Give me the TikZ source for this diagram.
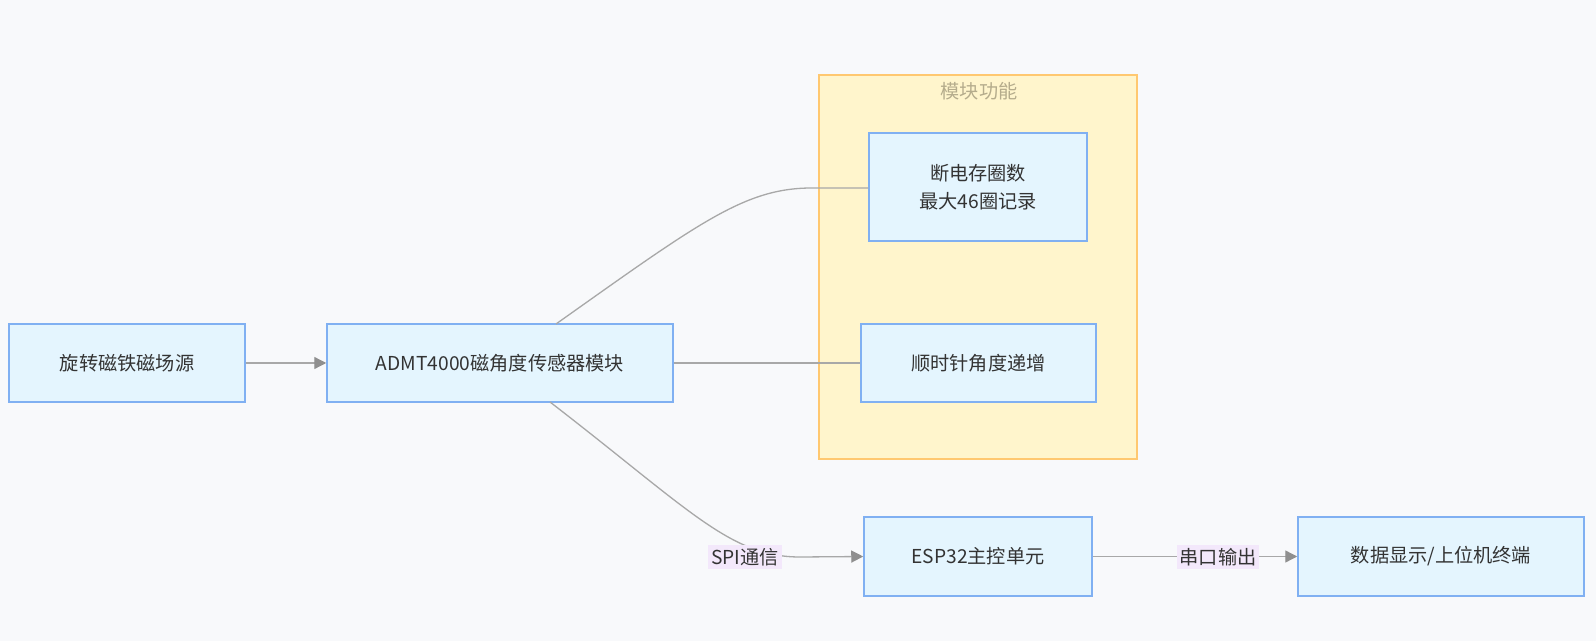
\documentclass[tikz,border=0pt]{standalone}
\usepackage{fontspec}
\setmainfont{Noto Sans CJK SC}
\usetikzlibrary{arrows.meta}
\definecolor{bgc}{HTML}{F8F9FB}
\definecolor{boxfill}{HTML}{E4F5FE}
\definecolor{boxdraw}{HTML}{80B0F2}
\definecolor{clfill}{HTML}{FFF5CC}
\definecolor{cldraw}{HTML}{FFC870}
\definecolor{cltext}{HTML}{B5AC8C}
\definecolor{linec}{HTML}{A8A8A8}
\definecolor{lblfill}{HTML}{F3E8FB}
\definecolor{txt}{HTML}{333333}
\begin{document}
\begin{tikzpicture}[x=0.5pt,y=-0.5pt,
  box/.style={draw=boxdraw,fill=boxfill,line width=0.75pt,inner sep=0pt,
    text=txt,font=\fontsize{9.6pt}{14pt}\selectfont,align=center},
  conn/.style={draw=linec,line width=0.65pt},
  arr/.style={conn,-{Triangle[length=6pt,width=6pt,fill=linec!85!black,color=linec!85!black]}},
  lbl/.style={fill=lblfill,inner sep=1.5pt,text=txt,font=\fontsize{9.6pt}{12pt}\selectfont}]
\useasboundingbox[fill=bgc] (0,0) rectangle (1596,641);
% cluster
\node[draw=cldraw,fill=clfill,line width=0.75pt,minimum width=318*0.5pt,minimum height=384*0.5pt,inner sep=0pt] (cl) at (978,267) {};
\node[text=cltext,font=\fontsize{9.6pt}{12pt}\selectfont] (cltitle) at (979,91) {模块功能};
% nodes
\node[box,minimum width=236*0.5pt,minimum height=78*0.5pt] (A) at (127,363) {旋转磁铁磁场源};
\node[box,minimum width=346*0.5pt,minimum height=78*0.5pt] (B) at (500,363) {ADMT4000磁角度传感器模块};
\node[box,minimum width=218*0.5pt,minimum height=108*0.5pt] (C) at (978,187) {断电存圈数\\最大46圈记录};
\node[box,minimum width=235*0.5pt,minimum height=78*0.5pt] (D) at (978.5,363) {顺时针角度递增};
\node[box,minimum width=228*0.5pt,minimum height=79*0.5pt] (E) at (978,556.5) {ESP32主控单元};
\node[box,minimum width=286*0.5pt,minimum height=79*0.5pt] (F) at (1441,556.5) {数据显示/上位机终端};
% connectors
\coordinate (bc1) at (556,324);
\coordinate (bc2) at (812,188);
\coordinate (be1) at (550,402);
\coordinate (be2) at (800,557);
\draw[arr] (A) -- (B);
\draw[conn] (bc1) .. controls (700,222) and (745,188) .. (bc2) -- (C.west |- bc2);
\draw[conn] (B.east) -- (D.west);
\draw[arr] (be1) .. controls (690,510) and (730,557) .. (be2) -- (E.west);
\draw[arr] (E) -- (F);
\node[lbl] (l1) at (745,557) {SPI通信};
\node[lbl] (l2) at (1218,557) {串口输出};
\end{tikzpicture}
\end{document}
